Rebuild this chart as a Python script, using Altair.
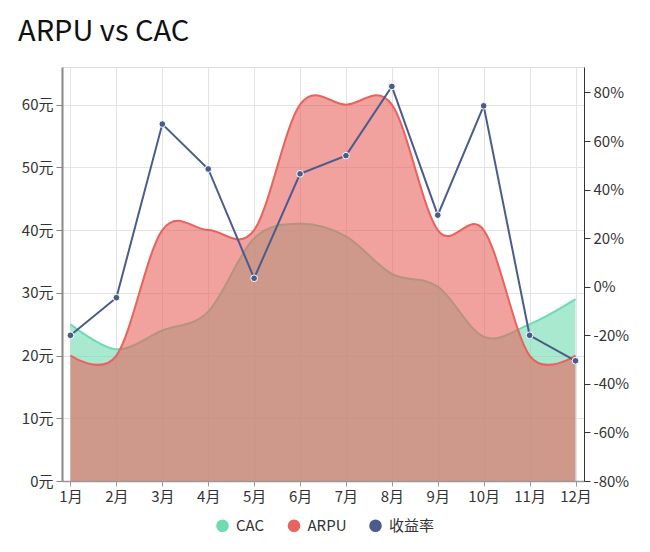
import altair as alt
import pandas as pd

months = ["1月", "2月", "3月", "4月", "5月", "6月", "7月", "8月", "9月", "10月", "11月", "12月"]
cac = [25, 21, 24, 27, 38.7, 41, 39, 33, 31, 23, 25, 29]
arpu = [20, 20, 40, 40, 40, 60, 60, 60, 40, 40, 20, 20]
margin = [-0.20, -0.045, 0.67, 0.485, 0.035, 0.465, 0.54, 0.825, 0.295, 0.745, -0.20, -0.305]
series_names = ["CAC", "ARPU", "收益率"]
colors = ["#6fdbb1", "#e8625e", "#4b5b8b"]
left_ticks = [0, 10, 20, 30, 40, 50, 60]
right_ticks = [-0.8, -0.6, -0.4, -0.2, 0, 0.2, 0.4, 0.6, 0.8]

FONT = "Noto Sans CJK SC"

df_cac = pd.DataFrame({"month": months, "series": "CAC", "value": cac})
df_arpu = pd.DataFrame({"month": months, "series": "ARPU", "value": arpu})
df_m = pd.DataFrame({"month": months, "series": "收益率", "value": margin})

color_scale = alt.Scale(domain=series_names, range=colors)

x_enc = alt.X(
    "month:N", sort=months,
    scale=alt.Scale(type="point", padding=0.185),
    axis=alt.Axis(title=None, labelAngle=0, grid=True, gridColor="#e3e3e3", gridWidth=1,
                  domainColor="#999999", domainWidth=1.5, tickColor="#999999", tickSize=5,
                  labelFontSize=15, labelColor="#333333", labelFont=FONT, labelPadding=3),
)

y_left = alt.Y(
    "value:Q",
    scale=alt.Scale(domain=[0, 66], nice=False, zero=True),
    axis=alt.Axis(title=None, values=left_ticks, labelExpr="datum.value + '元'", grid=True,
                  gridColor="#e3e3e3", gridWidth=1, domainColor="#888888", domainWidth=2,
                  tickColor="#888888", tickSize=6, labelFontSize=15, labelColor="#333333",
                  labelFont=FONT, labelPadding=3),
)

legend = alt.Legend(title=None, orient="none", legendX=153, legendY=451,
                    direction="horizontal", symbolType="circle", symbolSize=160,
                    symbolOpacity=1, symbolStrokeWidth=0, labelFontSize=15,
                    labelFont=FONT, labelColor="#333333", columnPadding=21.5,
                    padding=0, labelOffset=6)

area_cac = alt.Chart(df_cac).mark_area(
    interpolate="cardinal", fillOpacity=0.6, line={"strokeWidth": 2}
).encode(x=x_enc, y=y_left,
         color=alt.Color("series:N", scale=color_scale, sort=series_names, legend=legend))

area_arpu = alt.Chart(df_arpu).mark_area(
    interpolate="cardinal", fillOpacity=0.6, line={"strokeWidth": 2}
).encode(x=x_enc, y=y_left, color=alt.Color("series:N", scale=color_scale, legend=None))

line = alt.Chart(df_m).mark_line(
    strokeWidth=2,
    point=alt.OverlayMarkDef(filled=True, size=45, stroke="white", strokeWidth=1, opacity=1),
).encode(
    x=x_enc,
    y=alt.Y("value:Q", scale=alt.Scale(domain=[-0.8, 0.905], nice=False, zero=False),
            axis=alt.Axis(title=None, orient="right", values=right_ticks,
                          labelExpr="round(datum.value * 100) + '%'", grid=False,
                          domainColor="#333333", domainWidth=1, tickColor="#333333", tickSize=6,
                          labelFontSize=15, labelColor="#333333", labelFont=FONT, labelPadding=3)),
    color=alt.Color("series:N", scale=color_scale, legend=None),
)

chart = alt.layer(
    alt.layer(area_cac, area_arpu),
    line,
).resolve_scale(y="independent").properties(
    width=522, height=414,
    title=alt.TitleParams(text="ARPU vs CAC", anchor="start", frame="group", fontSize=29,
                          font=FONT, fontWeight="normal", color="#111111", dx=-44, offset=-3,
                          baseline="alphabetic"),
    autosize=alt.AutoSizeParams(type="none"),
    padding={"left": 62, "top": 67, "right": 66, "bottom": 71},
).configure_view(stroke=None).configure(background="white")

chart.save("out.html", embed_options={"renderer": "svg", "actions": False})
